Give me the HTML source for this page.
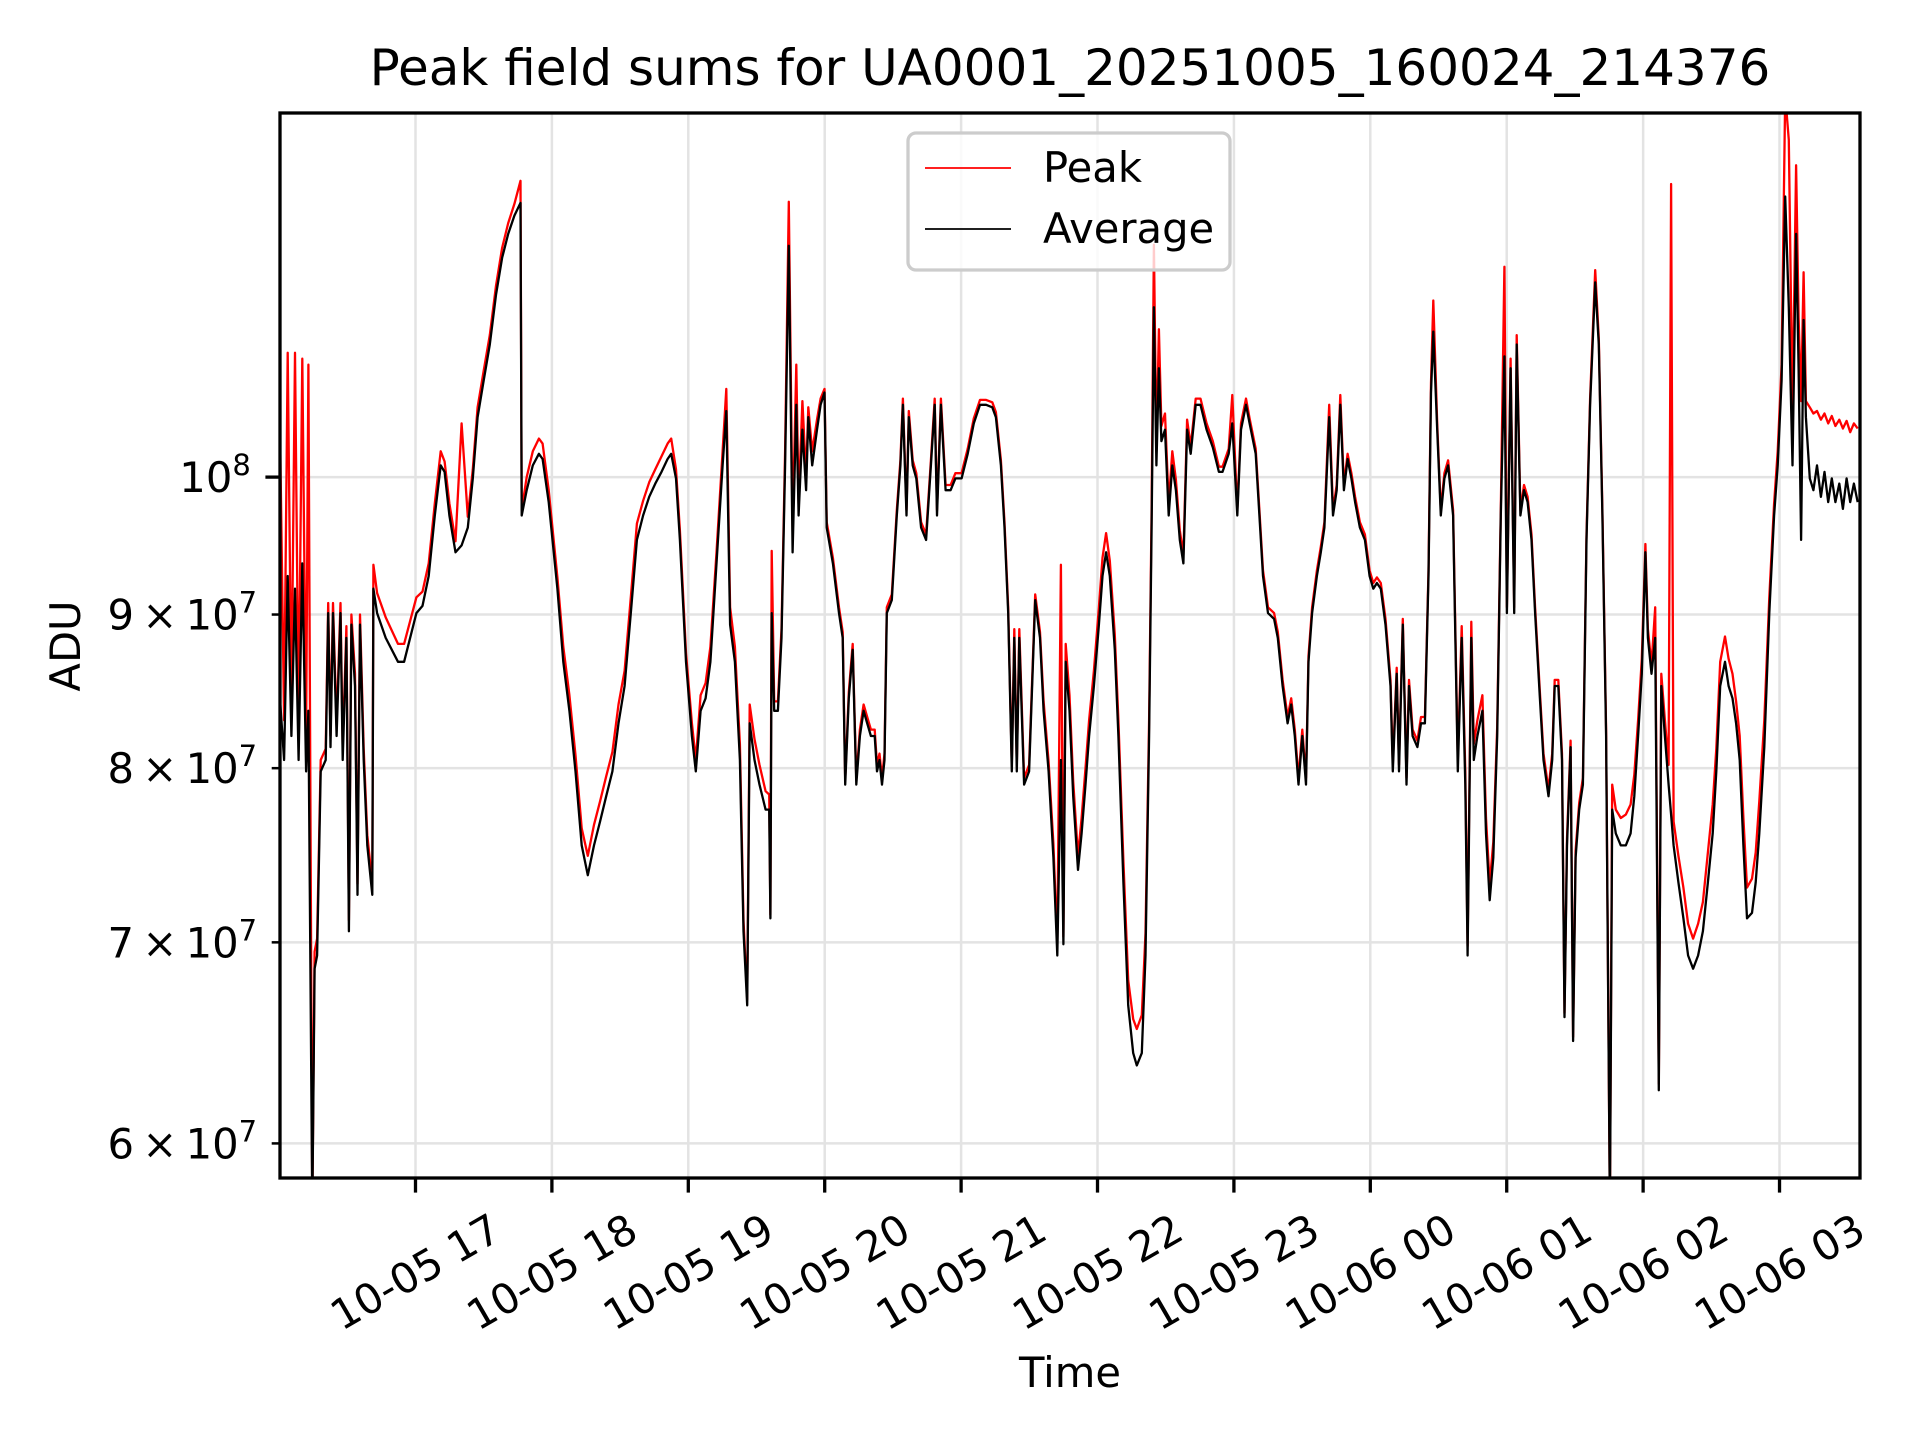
<!DOCTYPE html>
<html><head><meta charset="utf-8"><style>
html,body{margin:0;padding:0;background:#fff}
svg{display:block;font-family:"DejaVu Sans","Liberation Sans",sans-serif}
</style></head><body>
<svg id="chart" width="1920" height="1440" viewBox="0 0 1920 1440" xmlns="http://www.w3.org/2000/svg">
<rect width="1920" height="1440" fill="#fff"/>
<defs><clipPath id="plotclip"><rect x="280" y="113" width="1580" height="1065"/></clipPath></defs>
<g id="grid"></g>
<g id="series" clip-path="url(#plotclip)"></g>
<rect x="280" y="113" width="1580" height="1065" fill="none" stroke="#000" stroke-width="3.3"/>
<g id="axes"></g>
<text x="1070" y="85" font-size="50" text-anchor="middle">Peak field sums for UA0001_20251005_160024_214376</text>
<text x="1070" y="1387" font-size="41.7" text-anchor="middle">Time</text>
<text transform="translate(80,646) rotate(-90)" font-size="41.7" text-anchor="middle">ADU</text>
<g>
<rect x="908" y="133" width="322" height="137" rx="8" fill="#fff" fill-opacity="0.8" stroke="#ccc" stroke-width="3.3"/>
<line x1="925" y1="168" x2="1011" y2="168" stroke="#f00" stroke-width="1.8"/>
<text x="1043" y="182" font-size="41.7">Peak</text>
<line x1="925" y1="229" x2="1011" y2="229" stroke="#000" stroke-width="1.8"/>
<text x="1043" y="243" font-size="41.7">Average</text>
</g>
</svg>
<script>
// minutes since 2025-10-05 16:00
const times = [0,2.2,3.8,5.4,7.0,8.6,10.2,11.9,12.9,14.6,15.6,16.7,18.3,20.5,21.6,22.6,23.7,25.3,27.0,28.0,29.6,30.7,31.8,33.4,34.5,35.6,37.2,38.8,41.0,41.5,43.1,46.9,52.3,55.0,60.4,63.1,65.8,68.5,71.1,72.8,74.9,77.6,80.3,83.0,85.2,87.3,90.0,92.7,95.4,98.1,100.8,103.5,106.2,106.7,108.9,111.6,114.3,115.9,118.6,122.4,125.0,127.7,130.4,133.1,135.8,138.5,141.2,143.9,146.6,149.3,152.0,154.7,157.4,160.1,162.8,165.5,168.2,170.9,172.5,174.6,176.3,179.0,181.6,183.3,185.4,187.6,189.7,192.4,195.1,196.7,198.4,200.5,202.7,204.3,205.9,207.0,209.1,211.3,214.0,215.6,216.1,216.7,217.8,219.4,221.0,222.6,224.2,225.9,227.5,228.5,230.2,231.8,232.8,234.5,236.6,238.2,239.9,240.9,243.6,246.3,247.9,249.0,250.6,252.3,253.9,255.5,257.1,258.7,260.3,262.0,263.0,264.1,265.2,266.3,267.3,269.5,271.7,273.3,274.4,276.0,277.0,278.7,280.3,282.4,284.6,286.7,288.4,289.4,291.1,293.2,295.4,297.5,300.2,302.9,305.6,308.3,311.0,313.7,315.3,317.5,319.1,320.7,322.3,323.4,324.5,325.6,327.7,329.9,332.6,334.7,336.3,338.5,340.6,342.3,343.9,345.0,346.0,347.7,349.3,351.4,353.0,354.7,356.3,358.4,360.6,362.2,363.8,365.4,367.6,369.2,371.4,373.5,375.7,377.3,379.5,381.1,382.7,383.8,384.8,385.9,387.0,388.1,389.7,391.3,392.9,394.5,396.2,397.8,399.4,401.0,403.2,405.3,408.0,410.7,413.4,415.0,417.7,419.3,421.5,423.1,425.3,426.9,429.6,431.2,432.8,435.0,437.7,439.3,441.4,443.6,445.2,446.8,448.4,450.1,451.7,452.8,454.4,456.5,458.2,459.8,461.9,463.6,465.2,466.8,468.4,470.0,471.7,473.3,475.4,477.6,479.7,481.3,482.9,484.6,486.7,488.9,489.9,491.6,492.6,494.3,495.9,497.0,498.6,500.7,502.3,504.0,505.6,506.7,507.7,509.4,511.0,512.6,514.2,516.4,518.5,520.2,521.8,522.8,524.4,525.5,527.1,529.3,530.9,532.5,534.1,535.8,537.4,539.0,540.1,541.7,543.3,544.4,546.0,547.6,549.2,550.9,552.5,554.6,556.2,558.4,560.0,561.1,562.7,564.3,565.4,566.5,568.1,569.2,570.3,571.9,573.5,575.1,576.7,578.9,580.5,582.1,583.7,585.4,586.4,588.0,590.2,592.4,594.5,596.1,597.8,599.4,601.0,602.1,603.7,605.3,606.9,608.0,609.6,611.2,612.3,613.4,615.5,617.7,619.8,622.0,624.2,626.3,628.5,630.6,632.2,633.9,636.0,637.6,639.3,640.9,642.5,644.1,645.7,647.9,649.5,651.1,653.3,655.5,657.6,659.2,660.9,662.5,664.1,665.7,667.3,668.4,669.5,670.6,671.6,673.3,674.9,676.5,678.2,679.8,681.4,683.0,684.6,686.3,687.9,689.5,691.1,692.7,694.4];
// values in units of 1e7 ADU
const averageE7 = [8.52,8.05,9.27,8.20,9.18,8.05,9.36,7.98,8.36,5.70,6.86,6.93,7.98,8.05,9.01,8.13,9.01,8.20,9.01,8.05,8.84,7.06,8.93,8.52,7.26,8.93,8.05,7.54,7.26,9.18,9.01,8.84,8.68,8.68,9.01,9.06,9.27,9.71,10.09,10.04,9.71,9.44,9.49,9.62,9.99,10.47,10.77,11.07,11.50,11.83,12.05,12.22,12.34,9.71,9.90,10.09,10.18,10.14,9.81,9.18,8.68,8.36,7.98,7.54,7.37,7.54,7.68,7.83,7.98,8.28,8.52,9.01,9.53,9.71,9.85,9.95,10.04,10.14,10.18,9.99,9.53,8.68,8.20,7.98,8.36,8.44,8.68,9.36,10.09,10.52,8.93,8.68,8.05,7.06,6.67,8.28,8.05,7.90,7.75,7.75,7.13,9.01,8.36,8.36,8.84,10.09,11.94,9.44,10.57,9.71,10.37,9.90,10.47,10.09,10.37,10.57,10.67,9.62,9.36,9.01,8.84,7.90,8.44,8.76,7.90,8.20,8.36,8.28,8.20,8.20,7.98,8.05,7.90,8.05,9.01,9.10,9.71,10.09,10.57,9.71,10.47,10.09,9.99,9.62,9.53,10.09,10.57,9.71,10.57,9.90,9.90,9.99,9.99,10.18,10.42,10.57,10.57,10.55,10.47,10.09,9.62,9.01,7.98,8.84,7.98,8.84,7.90,7.98,9.10,8.84,8.36,7.98,7.47,6.93,8.05,6.99,8.68,8.36,7.83,7.40,7.61,7.90,8.20,8.52,8.93,9.27,9.44,9.27,8.76,8.20,7.33,6.67,6.43,6.37,6.43,6.93,8.20,9.62,11.39,10.09,10.87,10.28,10.37,9.71,10.09,9.90,9.53,9.36,10.37,10.18,10.57,10.57,10.37,10.23,10.04,10.04,10.18,10.42,9.71,10.37,10.57,10.42,10.18,9.71,9.27,9.01,8.97,8.84,8.52,8.28,8.40,8.20,7.90,8.20,7.90,8.68,9.01,9.27,9.44,9.62,10.47,9.71,9.90,10.57,9.90,10.14,9.99,9.81,9.62,9.53,9.27,9.18,9.22,9.18,8.93,8.52,7.98,8.60,7.98,8.93,7.90,8.52,8.20,8.13,8.28,8.28,9.27,10.67,11.18,10.37,9.71,9.99,10.09,9.71,7.98,8.84,7.90,6.93,8.84,8.05,8.20,8.36,7.61,7.23,7.47,8.20,9.71,10.97,9.01,10.87,9.01,11.07,9.71,9.90,9.81,9.53,9.01,8.44,8.05,7.83,8.05,8.52,8.52,8.05,6.61,7.54,8.13,6.49,7.47,7.75,7.90,9.53,10.57,11.61,11.07,9.71,8.20,5.70,7.75,7.61,7.54,7.54,7.61,7.83,8.20,8.60,9.44,8.84,8.60,8.84,6.25,8.52,8.20,7.90,7.72,7.54,7.33,7.13,6.93,6.86,6.93,7.06,7.33,7.61,7.98,8.52,8.68,8.52,8.44,8.28,8.05,7.54,7.13,7.16,7.33,7.61,8.13,9.01,9.71,10.09,10.77,12.40,11.39,10.09,12.05,10.87,9.53,11.28,10.47,9.99,9.90,10.09,9.85,10.04,9.81,9.99,9.81,9.95,9.76,9.99,9.81,9.95,9.81];
const peakE7 = [10.9,8.3,11.0,8.4,11.0,8.3,10.95,8.2,10.9,5.70,6.95,7.02,8.05,8.12,9.08,8.2,9.08,8.27,9.08,8.12,8.92,7.12,9.0,8.6,7.32,9.0,8.12,7.6,7.32,9.35,9.15,8.98,8.8,8.8,9.12,9.16,9.36,9.8,10.2,10.12,9.8,9.52,10.42,9.7,10.06,10.55,10.85,11.15,11.58,11.92,12.15,12.33,12.55,9.75,10.0,10.2,10.3,10.26,9.9,9.26,8.78,8.46,8.08,7.64,7.48,7.66,7.8,7.95,8.1,8.4,8.62,9.12,9.65,9.82,9.96,10.06,10.16,10.26,10.3,10.06,9.6,8.74,8.28,8.05,8.46,8.54,8.78,9.44,10.2,10.7,9.05,8.78,8.15,7.12,6.7,8.4,8.18,8.02,7.86,7.84,7.15,9.45,8.42,8.42,8.9,10.2,12.35,9.6,10.9,9.8,10.6,10.0,10.55,10.2,10.45,10.62,10.7,9.66,9.4,9.05,8.88,7.93,8.48,8.8,7.93,8.24,8.4,8.32,8.24,8.24,8.02,8.09,7.94,8.09,9.05,9.14,9.75,10.13,10.62,9.75,10.52,10.13,10.03,9.66,9.57,10.13,10.62,9.75,10.62,9.94,9.94,10.03,10.03,10.22,10.46,10.61,10.61,10.59,10.51,10.13,9.66,9.05,8.02,8.9,8.02,8.9,7.94,8.02,9.14,8.88,8.42,8.04,7.55,6.98,9.35,7.03,8.8,8.46,7.92,7.48,7.7,8.0,8.3,8.62,9.05,9.4,9.58,9.38,8.86,8.3,7.45,6.8,6.6,6.55,6.62,7.05,8.3,9.75,11.95,10.2,11.2,10.4,10.5,9.8,10.2,9.98,9.6,9.42,10.45,10.24,10.62,10.62,10.42,10.28,10.08,10.08,10.22,10.65,9.75,10.42,10.62,10.46,10.22,9.75,9.31,9.05,9.01,8.88,8.56,8.32,8.44,8.24,7.94,8.24,7.94,8.72,9.05,9.31,9.48,9.66,10.57,9.75,9.94,10.65,9.94,10.18,10.03,9.85,9.66,9.57,9.31,9.22,9.26,9.22,8.97,8.56,8.02,8.64,8.02,8.97,7.94,8.56,8.24,8.17,8.32,8.32,9.31,10.75,11.45,10.42,9.75,10.03,10.13,9.75,8.05,8.92,7.98,6.98,8.95,8.15,8.3,8.46,7.7,7.32,7.56,8.26,9.76,11.75,9.05,10.95,9.05,11.15,9.75,9.94,9.85,9.57,9.05,8.48,8.09,7.87,8.09,8.56,8.56,8.09,6.63,7.58,8.17,6.51,7.51,7.79,7.94,9.57,10.62,11.72,11.12,9.75,8.24,5.70,7.9,7.75,7.7,7.72,7.78,7.96,8.3,8.7,9.5,8.9,8.66,9.05,6.28,8.6,8.3,8.02,12.52,7.68,7.48,7.3,7.1,7.02,7.1,7.22,7.5,7.78,8.12,8.68,8.85,8.7,8.6,8.42,8.2,7.7,7.3,7.35,7.5,7.8,8.3,9.12,9.8,10.2,10.9,13.4,12.95,10.5,12.7,11.3,10.6,11.7,10.6,10.55,10.5,10.52,10.45,10.5,10.42,10.48,10.4,10.45,10.38,10.44,10.35,10.42,10.38];
const xTickMinutes = [60,120,180,240,300,360,420,480,540,600,660];
const xTickLabels = ["10-05 17","10-05 18","10-05 19","10-05 20","10-05 21","10-05 22","10-05 23","10-06 00","10-06 01","10-06 02","10-06 03"];
const yTickValuesE7 = [6,7,8,9,10];
const yTickMantissa = ["6","7","8","9",""];
const yTickExponent = ["7","7","7","7","8"];

const NS = "http://www.w3.org/2000/svg";
const PL = 280, PR = 1860, PT = 113, PB = 1178;
const X0 = 0.4, X1 = 695.4, Y0 = 5.843, Y1 = 13.22;
function xs(m){ return PL + (m - X0) / (X1 - X0) * (PR - PL); }
function ys(v){ return PB - (Math.log10(v) - Math.log10(Y0)) / (Math.log10(Y1) - Math.log10(Y0)) * (PB - PT); }
function mk(tag, attrs, parent){
  const e = document.createElementNS(NS, tag);
  for (const k in attrs) e.setAttribute(k, attrs[k]);
  parent.appendChild(e);
  return e;
}
const grid = document.getElementById("grid");
const axes = document.getElementById("axes");
const series = document.getElementById("series");

xTickMinutes.forEach((m, i) => {
  const x = xs(m);
  const g = mk("line", {x1:x, x2:x, y1:PT, y2:PB, stroke:"#e3e3e3", "stroke-width":2.5}, grid);
  
  
  const t = mk("line", {x1:x, x2:x, y1:PB, y2:PB + 14.6, stroke:"#000", "stroke-width":3.3}, axes);
  
  
  const lbl = mk("text", {transform:`translate(${x},${PB + 29 + 65}) rotate(-30)`, "font-size":41.7, "text-anchor":"middle", "dominant-baseline":"central"}, axes);
  lbl.textContent = xTickLabels[i];
  
  
});

yTickValuesE7.forEach((v, i) => {
  const y = ys(v);
  const g = mk("line", {x1:PL, x2:PR, y1:y, y2:y, stroke:"#e3e3e3", "stroke-width":2.5}, grid);
  
  
  const major = yTickMantissa[i] === "";
  const len = major ? 14.6 : 8.3;
  const t = mk("line", {x1:PL - len, x2:PL, y1:y, y2:y, stroke:"#000", "stroke-width": major ? 3.3 : 2.5}, axes);
  
  
  const lbl = mk("text", {x:PL - len - 14.6, y:y + 15, "font-size":41.7, "text-anchor":"end"}, axes);
  
  
  const base = document.createElementNS(NS, "tspan");
  base.textContent = major ? "10" : (yTickMantissa[i] + "\u2009\u00d7\u200910");
  lbl.appendChild(base);
  const sup = document.createElementNS(NS, "tspan");
  sup.setAttribute("dy", "-17");
  sup.setAttribute("font-size", "29");
  sup.textContent = yTickExponent[i];
  lbl.appendChild(sup);
});

function pathFor(vals){
  return times.map((m, i) => (i ? "L" : "M") + xs(m).toFixed(1) + "," + ys(vals[i]).toFixed(1)).join("");
}
const peakPath = mk("path", {d:pathFor(peakE7), fill:"none", stroke:"#ff0000", "stroke-width":2.3, "stroke-linejoin":"round"}, series);


const avgPath = mk("path", {d:pathFor(averageE7), fill:"none", stroke:"#000000", "stroke-width":2.3, "stroke-linejoin":"round"}, series);


</script>
</body></html>
